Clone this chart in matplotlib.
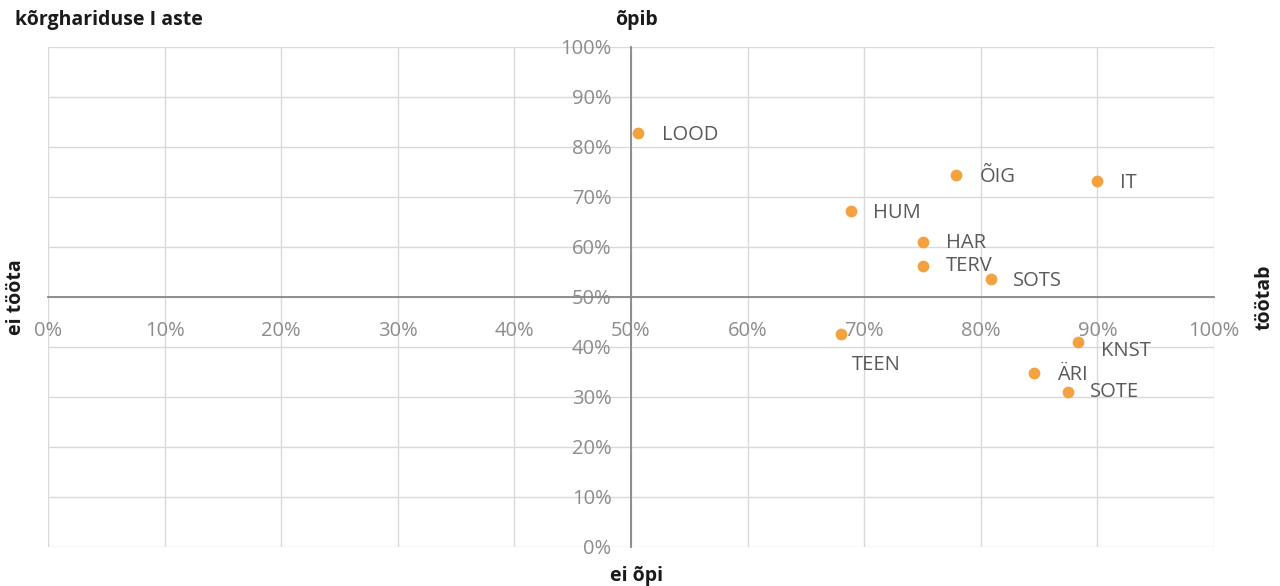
import numpy as np
import matplotlib
matplotlib.use("Agg")
import matplotlib.pyplot as plt
from matplotlib.ticker import FuncFormatter

plt.rcParams['font.family'] = ['Open Sans', 'DejaVu Sans']

# data (share in 0..1)
labels = ['LOOD', 'ÕIG', 'IT', 'HUM', 'HAR', 'TERV', 'SOTS', 'TEEN', 'KNST', 'ÄRI', 'SOTE']
x_vals = [0.506, 0.779, 0.900, 0.689, 0.750, 0.750, 0.809, 0.680, 0.883, 0.846, 0.875]
y_vals = [0.828, 0.744, 0.732, 0.672, 0.610, 0.562, 0.536, 0.426, 0.410, 0.348, 0.310]

# label offsets in pixels (right, up)
label_offsets = [(24, -2), (23, -2), (23, -2), (22, -2), (23, -1), (23, 0), (22, -2),
                 (11, -31), (23, -9), (23, -2), (22, 0)]

tick_pos = np.arange(0, 1.01, 0.1)

point_color = '#F4A23F'
grid_color = '#D9D9D9'
axis_color = '#878787'
tick_color = '#8C8C8C'
text_color = '#595959'

fig = plt.figure(figsize=(12.8, 5.86), dpi=100)
ax = fig.add_axes([48 / 1280, 1 - 547 / 586, 1166 / 1280, 500 / 586])

ax.set_xlim(0, 1)
ax.set_ylim(0, 1)
ax.set_xticks(tick_pos)
ax.set_yticks(tick_pos)
pct = FuncFormatter(lambda v, _: f"{v * 100:.0f}%")
ax.xaxis.set_major_formatter(pct)
ax.yaxis.set_major_formatter(pct)

ax.grid(True, color=grid_color, linewidth=1.0)
ax.set_axisbelow(True)

for side in ['top', 'right']:
    ax.spines[side].set_visible(False)
ax.spines['left'].set_position(('data', 0.5))
ax.spines['bottom'].set_position(('data', 0.5))
for side in ['left', 'bottom']:
    ax.spines[side].set_color(axis_color)
    ax.spines[side].set_linewidth(1.3)
    ax.spines[side].set_zorder(1.5)

ax.tick_params(axis='both', length=0, labelsize=14.5, labelcolor=tick_color)
ax.tick_params(axis='x', pad=17)
ax.tick_params(axis='y', pad=14)

ax.scatter(x_vals, y_vals, s=72, color=point_color, zorder=3, linewidths=0)

for name, xv, yv, (dx, dy) in zip(labels, x_vals, y_vals, label_offsets):
    ax.annotate(name, (xv, yv), xytext=(dx, dy), textcoords='offset pixels',
                ha='left', va='center', fontsize=14.5, color=text_color, zorder=4)

# quadrant captions
cap_style = dict(fontsize=14, fontweight='bold', color='#1a1a1a', va='center')
fig.text(15 / 1280, 1 - 20 / 586, 'kõrghariduse I aste', ha='left', **cap_style)
fig.text(636 / 1280, 1 - 20 / 586, 'õpib', ha='center', **cap_style)
fig.text(636 / 1280, 1 - 576 / 586, 'ei õpi', ha='center', **cap_style)
fig.text(16 / 1280, 1 - 297 / 586, 'ei tööta', ha='center', rotation=90, **cap_style)
fig.text(1264 / 1280, 1 - 297 / 586, 'töötab', ha='center', rotation=90, **cap_style)

fig.savefig('out.png', dpi=100)
